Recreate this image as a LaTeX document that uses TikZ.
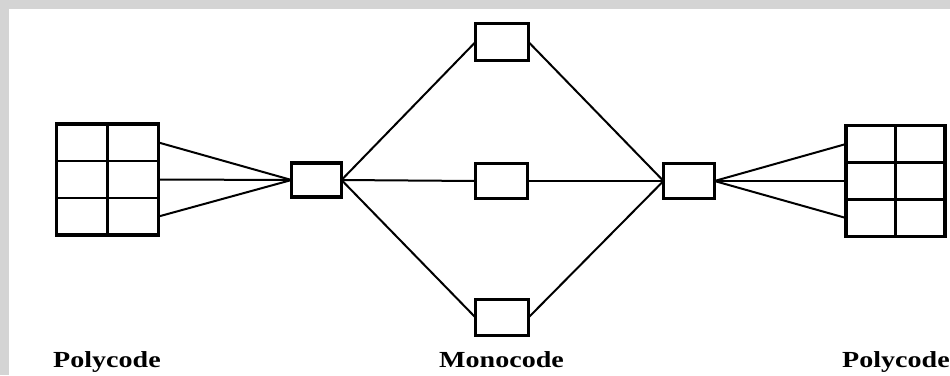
\documentclass[tikz,border=0pt]{standalone}
\usepackage{fontspec}
\usepackage{graphicx}
\usetikzlibrary{calc}
\newfontfamily\lblfont{Liberation Serif}
\definecolor{bandgray}{RGB}{212,212,212}
\begin{document}
\begin{tikzpicture}[x=1pt,y=-1pt,
  box/.style={draw, line width=3.6pt, rectangle, inner sep=0pt, outer sep=0pt,
              minimum width=52pt, minimum height=36pt},
  grid/.style={draw, line width=3.6pt, rectangle, inner sep=0pt, outer sep=0pt,
              minimum width=102pt, minimum height=111pt},
  inner/.style={line width=2.3pt},
  conn/.style={line width=2pt},
  lbl/.style={anchor=base west, inner sep=0pt, font=\lblfont\bfseries\fontsize{23}{27}\selectfont}]
\useasboundingbox (0,0) rectangle (950,375);
\fill[white] (0,0) rectangle (950,375);
\fill[bandgray] (0,0) rectangle (950,9);
\fill[bandgray] (0,0) rectangle (9,375);

% grids
\node[grid] (lg) at (107.5,179.5) {};
\draw[inner] (lg.north) -- (lg.south);
\draw[inner] ($(lg.north west)!1/3!(lg.south west)$) -- ($(lg.north east)!1/3!(lg.south east)$);
\draw[inner] ($(lg.north west)!2/3!(lg.south west)$) -- ($(lg.north east)!2/3!(lg.south east)$);
\node[grid, minimum width=99pt] (rg) at (895.5,181) {};
\draw[inner] (rg.north) -- (rg.south);
\draw[inner] ($(rg.north west)!1/3!(rg.south west)$) -- ($(rg.north east)!1/3!(rg.south east)$);
\draw[inner] ($(rg.north west)!2/3!(rg.south west)$) -- ($(rg.north east)!2/3!(rg.south east)$);

% boxes
\node[box, minimum width=50pt, minimum height=34pt] (lb) at (316.5,180) {};
\node[box, minimum width=51pt, minimum height=35pt] (rb) at (689,181) {};
\node[box, minimum width=53pt, minimum height=37pt] (tb) at (502,42) {};
\node[box, minimum width=52pt, minimum height=35pt] (mb) at (501.5,181) {};
\node[box, minimum width=53pt, minimum height=36pt] (bb) at (502,317.5) {};

% connectors
\coordinate (lg1) at ($(lg.north east)!1/6!(lg.south east)$);
\coordinate (lg2) at ($(lg.north east)!1/2!(lg.south east)$);
\coordinate (lg3) at ($(lg.north east)!5/6!(lg.south east)$);
\coordinate (rg1) at ($(rg.north west)!1/6!(rg.south west)$);
\coordinate (rg2) at ($(rg.north west)!1/2!(rg.south west)$);
\coordinate (rg3) at ($(rg.north west)!5/6!(rg.south west)$);
\draw[conn] (lg1) -- (lb.west);
\draw[conn] (lg2) -- (lb.west);
\draw[conn] (lg3) -- (lb.west);
\draw[conn] (lb.east) -- (tb.west);
\draw[conn] (lb.east) -- (mb.west);
\draw[conn] (lb.east) -- (bb.west);
\draw[conn] (tb.east) -- (rb.west);
\draw[conn] (mb.east) -- (rb.west);
\draw[conn] (bb.east) -- (rb.west);
\draw[conn] (rb.east) -- (rg1);
\draw[conn] (rb.east) -- (rg2);
\draw[conn] (rb.east) -- (rg3);

% labels
\node[lbl] (l1) at (53,367) {\scalebox{1.22}[1]{Polycode}};
\node[lbl] (l2) at (439,367) {\scalebox{1.22}[1]{Monocode}};
\node[lbl] (l3) at (842,367) {\scalebox{1.22}[1]{Polycode}};
\end{tikzpicture}
\end{document}
